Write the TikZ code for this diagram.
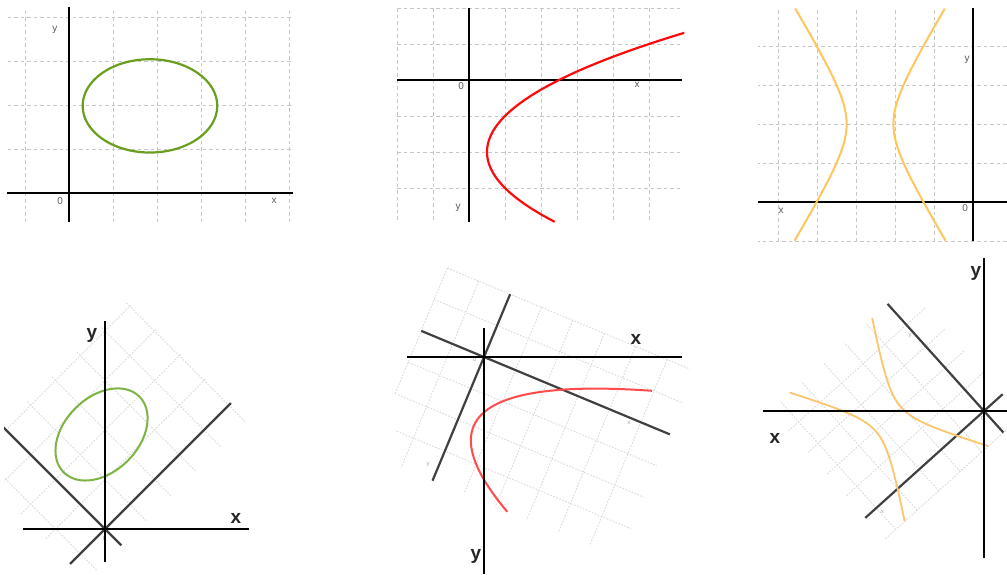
\documentclass[tikz,border=0pt]{standalone}
\usepackage{fontspec}
\setsansfont{Liberation Sans}
\definecolor{ellgreen}{HTML}{6B9E1F}
\definecolor{ellgreenlight}{HTML}{7DB443}
\definecolor{parred}{HTML}{FF0A0A}
\definecolor{parredlight}{HTML}{FF4B4B}
\definecolor{hyporange}{HTML}{FFC65C}
\definecolor{hyporangelight}{HTML}{FBC66E}

\begin{document}
\begin{tikzpicture}[x=1pt, y=-1pt,
    gridline/.style={gray!45, dash pattern=on 3.5pt off 3pt, line width=0.6pt},
    faintgrid/.style={gray!30, dash pattern=on 1.6pt off 1.6pt, line width=0.9pt},
    frameaxis/.style={black, line width=2.8pt},
    rotaxis/.style={black!75, line width=2.2pt},
    mainaxis/.style={black, line width=1.3pt},
    axislabel/.style={text=black!65, font=\sffamily\fontsize{10}{10}\selectfont, inner sep=0pt},
    tinylabel/.style={text=black!35, font=\sffamily\fontsize{6}{6}\selectfont, inner sep=0pt},
    biglabel/.style={text=black!85, font=\sffamily\bfseries\fontsize{19}{19}\selectfont, inner sep=0pt},
    ellipsecurve/.style={draw=ellgreen, line width=2.2pt},
    parabolacurve/.style={draw=parred, line width=2.2pt},
    hyperbolacurve/.style={draw=hyporange, line width=2pt}]

  \useasboundingbox[fill=white] (0,0) rectangle (1007,574);

  % Contents of the three frames (grid units)
  \def\ellipsepanel{%
    \foreach \i in {-1,...,5} \draw[gridline] (\i,-0.66) -- (\i,4.16);
    \foreach \j in {1,...,4} \draw[gridline] (-1.39,\j) -- (5.09,\j);
    \draw[frameaxis] (-1.41,0) -- (5.09,0);
    \draw[frameaxis] (0,-0.66) -- (0,4.23);
    \draw[ellipsecurve] (1.84,1.98) ellipse [x radius=1.53, y radius=1.06];
  }
  \def\parstart{-1.31}
  \def\parabolapanel{%
    \foreach \i in {-2,-1,1,2,3,4,5} \draw[gridline] (\i,-2) -- (\i,3.94);
    \foreach \j in {-2,-1,1,2,3} \draw[gridline] (-2,\j) -- (5.92,\j);
    \draw[frameaxis] (-2,0) -- (5.92,0);
    \draw[frameaxis] (0,-2) -- (0,3.94);
    \draw[parabolacurve] plot[domain=\parstart:3.94, samples=60, smooth] ({0.5+(\x-2)*(\x-2)/2},\x);
  }
  \def\hyperbolapanel{%
    \foreach \i in {1,...,5} \draw[gridline] (\i,-1) -- (\i,4.97);
    \foreach \j in {-1,1,2,3,4} \draw[gridline] (-0.87,\j) -- (5.51,\j);
    \draw[frameaxis] (5.51,0) -- (-0.87,0);
    \draw[frameaxis] (0,-1) -- (0,4.97);
    \draw[hyperbolacurve] plot[domain=-1.84:1.83, samples=60, smooth] ({2.64+0.6*cosh(\x)},{2+0.975*sinh(\x)});
    \draw[hyperbolacurve] plot[domain=-1.84:1.83, samples=60, smooth] ({2.64-0.6*cosh(\x)},{2+0.975*sinh(\x)});
  }

  % Ellipse
  \begin{scope}[shift={(69,193)}, x=44pt, y=44pt]
    \ellipsepanel
    \node[axislabel] (ellY) at (-0.32,3.7) {y};
    \node[axislabel] (ellO) at (-0.2,-0.18) {0};
    \node[axislabel] (ellX) at (4.66,-0.18) {x};
  \end{scope}

  % Parabola
  \begin{scope}[shift={(469,80)}, x=36pt, y=-36pt]
    \parabolapanel
    \node[axislabel] (parO) at (-0.22,0.17) {0};
    \node[axislabel] (parX) at (4.67,0.14) {x};
    \node[axislabel] (parY) at (-0.3,3.56) {y};
  \end{scope}

  % Hyperbola
  \begin{scope}[shift={(973,202)}, x=-39pt, y=39pt]
    \hyperbolapanel
    \node[axislabel] (hypY) at (0.15,3.64) {y};
    \node[axislabel] (hypO) at (0.2,-0.15) {0};
    \node[axislabel] (hypX) at (4.92,-0.23) {x};
  \end{scope}

  % Rotated ellipse
  \begin{scope}
    \clip (4,290) rectangle (262,574);
    \begin{scope}[shift={(105,529)}, rotate=45, x=35pt, y=35pt,
        gridline/.style={faintgrid}, frameaxis/.style={rotaxis},
        ellipsecurve/.style={draw=ellgreenlight, line width=2pt}]
      \ellipsepanel
      \node[tinylabel] (rellO) at (-0.2,-0.18) {0};
    \end{scope}
  \end{scope}
  \draw[mainaxis] (23,529) -- (249,529);
  \draw[mainaxis] (105,321) -- (105,562);
  \node[biglabel] (rellY) at (92,335) {y};
  \node[biglabel] (rellX) at (236,518) {x};

  % Rotated parabola
  \def\parstart{-0.98}
  \begin{scope}
    \clip (395,260) rectangle (690,574);
    \begin{scope}[shift={(484,357)}, rotate=-22.6, x=34pt, y=-34pt,
        gridline/.style={faintgrid}, frameaxis/.style={rotaxis},
        parabolacurve/.style={draw=parredlight, line width=2pt}]
      \parabolapanel
      \node[tinylabel] (rparO) at (-0.22,0.17) {0};
      \node[tinylabel] (rparX) at (4.67,0.14) {x};
      \node[tinylabel] (rparY) at (-0.3,3.56) {y};
    \end{scope}
  \end{scope}
  \draw[mainaxis] (407,357) -- (682,357);
  \draw[mainaxis] (484,328) -- (484,574);
  \node[biglabel] (rparXb) at (636,339) {x};
  \node[biglabel] (rparYb) at (476,556) {y};

  % Rotated hyperbola
  \begin{scope}
    \clip (755,260) rectangle (1007,574);
    \begin{scope}[shift={(984,411)}, rotate=42, x=-29pt, y=29pt,
        gridline/.style={faintgrid}, frameaxis/.style={rotaxis},
        hyperbolacurve/.style={draw=hyporangelight, line width=1.8pt}]
      \hyperbolapanel
      \node[tinylabel] (rhypY) at (0.15,3.64) {y};
      \node[tinylabel] (rhypO) at (0.2,-0.15) {0};
      \node[tinylabel] (rhypX) at (4.92,-0.23) {x};
    \end{scope}
  \end{scope}
  \draw[mainaxis] (763,411) -- (1007,411);
  \draw[mainaxis] (984,258) -- (984,558);
  \node[biglabel] (rhypYb) at (976,273) {y};
  \node[biglabel] (rhypXb) at (775,438) {x};

\end{tikzpicture}
\end{document}
